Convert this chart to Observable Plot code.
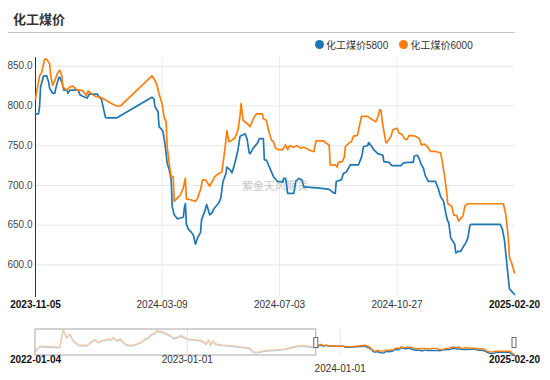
<!DOCTYPE html>
<html><head><meta charset="utf-8">
<script src="https://cdn.jsdelivr.net/npm/d3@7"></script>
<script src="https://cdn.jsdelivr.net/npm/@observablehq/plot@0.6"></script>
<style>
body{margin:0;background:#fff;}
#wrap{position:relative;width:550px;height:380px;overflow:hidden;font-family:"Liberation Sans",Arial,"Noto Sans CJK SC",sans-serif;}
#title{position:absolute;left:13px;top:10px;font-size:13px;font-weight:bold;color:#333;font-family:"Noto Sans CJK SC",sans-serif;line-height:18px;}
#sep{position:absolute;left:8px;top:32px;width:507px;height:1px;background:#c4c4c4;}
.leg{position:absolute;top:38.5px;height:12px;display:flex;align-items:center;font-size:10px;color:#333;white-space:nowrap;}
.leg i{display:inline-block;width:9px;height:9px;border-radius:50%;margin-right:2.5px;}
#main{position:absolute;left:0;top:40px;}
#slider{position:absolute;left:0;top:320px;}
</style></head>
<body><div id="wrap">
<div id="title"></div><div id="sep"></div>
<div id="legend"></div>
<div id="main"></div><div id="slider"></div>
</div>
<script>
const titleText = "化工煤价";
const seriesNames = ["化工煤价5800", "化工煤价6000"];
const seriesColors = ["#1f77b4", "#ff7f0e"];
const fadedColors = ["#b3d0e8", "#f8cba6"];
const watermark = "紫金天风期货";
const yTicks = [600, 650, 700, 750, 800, 850];
const yDomain = [559, 861];
const xTickLabels = ["2023-11-05", "2024-03-09", "2024-07-03", "2024-10-27", "2025-02-20"];
const sliderLabels = ["2022-01-04", "2023-01-01", "2024-01-01", "2025-02-20"];
const sliderYDomain = [563, 1264];

const dates5800 = ["2023-11-05","2023-11-08","2023-11-09","2023-11-10","2023-11-13","2023-11-16","2023-11-18","2023-11-19","2023-11-22","2023-11-24","2023-11-25","2023-11-28","2023-11-29","2023-12-01","2023-12-03","2023-12-06","2023-12-07","2023-12-09","2023-12-17","2023-12-19","2023-12-22","2023-12-26","2023-12-28","2024-01-05","2024-01-07","2024-01-09","2024-01-13","2024-01-14","2024-01-24","2024-02-28","2024-03-01","2024-03-02","2024-03-04","2024-03-05","2024-03-06","2024-03-09","2024-03-10","2024-03-12","2024-03-14","2024-03-16","2024-03-18","2024-03-19","2024-03-21","2024-03-24","2024-03-27","2024-03-30","2024-03-31","2024-04-01","2024-04-02","2024-04-04","2024-04-07","2024-04-09","2024-04-11","2024-04-13","2024-04-16","2024-04-17","2024-04-20","2024-04-22","2024-04-25","2024-04-27","2024-04-30","2024-05-04","2024-05-06","2024-05-08","2024-05-11","2024-05-12","2024-05-15","2024-05-17","2024-05-19","2024-05-21","2024-05-23","2024-05-25","2024-05-30","2024-06-01","2024-06-03","2024-06-04","2024-06-07","2024-06-11","2024-06-13","2024-06-17","2024-06-18","2024-06-20","2024-06-22","2024-06-25","2024-06-27","2024-07-01","2024-07-06","2024-07-07","2024-07-09","2024-07-11","2024-07-17","2024-07-19","2024-07-22","2024-07-25","2024-07-27","2024-07-30","2024-08-09","2024-08-16","2024-08-21","2024-08-25","2024-08-27","2024-08-28","2024-09-02","2024-09-04","2024-09-07","2024-09-11","2024-09-19","2024-09-22","2024-09-24","2024-09-28","2024-09-29","2024-10-02","2024-10-04","2024-10-08","2024-10-13","2024-10-14","2024-10-19","2024-10-22","2024-10-31","2024-11-02","2024-11-06","2024-11-12","2024-11-13","2024-11-16","2024-11-18","2024-11-20","2024-11-22","2024-11-24","2024-11-27","2024-12-04","2024-12-07","2024-12-09","2024-12-11","2024-12-12","2024-12-14","2024-12-16","2024-12-17","2024-12-19","2024-12-21","2024-12-23","2024-12-24","2024-12-26","2024-12-29","2024-12-31","2025-01-03","2025-01-05","2025-01-07","2025-01-08","2025-02-06","2025-02-08","2025-02-10","2025-02-12","2025-02-14","2025-02-15","2025-02-17","2025-02-20"];
const values5800 = [790,790,799,824,838,838,830,822,816,816,822,836,836,830,820,820,816,820,820,814,812,810,815,815,811,809,786,785,785,811,809,799,795,793,774,770,767,751,728,720,707,673,663,658,659,660,672,677,651,645,641,637,626,634,641,657,667,676,663,665,672,678,684,704,715,723,720,716,724,734,745,762,765,758,741,740,747,753,759,759,732,732,726,717,711,705,704,709,709,690,690,705,709,707,698,698,697,696,695,691,690,705,707,715,717,726,726,736,749,750,754,749,745,740,738,730,729,725,725,728,729,729,737,738,733,726,722,712,705,705,695,686,682,680,666,655,654,634,630,626,615,617,617,622,628,634,650,651,651,645,632,607,582,570,567,563];

const dates6000 = ["2023-11-05","2023-11-09","2023-11-11","2023-11-14","2023-11-16","2023-11-19","2023-11-20","2023-11-22","2023-11-24","2023-11-27","2023-11-29","2023-12-01","2023-12-02","2023-12-06","2023-12-09","2023-12-12","2023-12-16","2023-12-19","2023-12-22","2023-12-25","2023-12-27","2023-12-31","2024-01-03","2024-01-08","2024-01-11","2024-01-14","2024-01-19","2024-01-24","2024-01-28","2024-02-28","2024-03-02","2024-03-04","2024-03-06","2024-03-09","2024-03-11","2024-03-13","2024-03-14","2024-03-16","2024-03-18","2024-03-20","2024-03-21","2024-03-24","2024-03-27","2024-03-30","2024-04-01","2024-04-02","2024-04-06","2024-04-11","2024-04-13","2024-04-16","2024-04-18","2024-04-21","2024-04-25","2024-04-30","2024-05-04","2024-05-07","2024-05-10","2024-05-12","2024-05-14","2024-05-17","2024-05-20","2024-05-23","2024-05-25","2024-05-26","2024-05-28","2024-06-01","2024-06-04","2024-06-07","2024-06-10","2024-06-16","2024-06-17","2024-06-20","2024-06-22","2024-06-25","2024-06-27","2024-06-29","2024-07-02","2024-07-06","2024-07-09","2024-07-11","2024-07-13","2024-07-17","2024-07-20","2024-07-24","2024-07-27","2024-08-01","2024-08-04","2024-08-06","2024-08-08","2024-08-16","2024-08-17","2024-08-21","2024-08-22","2024-08-27","2024-08-29","2024-08-30","2024-09-03","2024-09-05","2024-09-06","2024-09-10","2024-09-12","2024-09-14","2024-09-18","2024-09-19","2024-09-22","2024-09-28","2024-10-01","2024-10-06","2024-10-08","2024-10-10","2024-10-11","2024-10-13","2024-10-16","2024-10-17","2024-10-21","2024-10-23","2024-10-27","2024-10-29","2024-11-01","2024-11-04","2024-11-06","2024-11-08","2024-11-14","2024-11-18","2024-11-20","2024-11-23","2024-11-26","2024-11-29","2024-12-03","2024-12-09","2024-12-11","2024-12-13","2024-12-15","2024-12-16","2024-12-17","2024-12-20","2024-12-22","2024-12-25","2024-12-27","2024-12-29","2024-12-31","2025-01-02","2025-01-05","2025-02-09","2025-02-11","2025-02-12","2025-02-14","2025-02-15","2025-02-17","2025-02-20"];
const values6000 = [809,838,842,859,859,853,838,826,832,842,845,838,824,820,824,825,820,820,819,813,819,815,812,811,809,807,803,800,800,838,832,826,815,803,786,780,749,728,711,711,680,684,688,697,709,683,682,680,684,695,707,707,699,711,715,717,745,769,755,757,760,770,788,803,782,778,774,784,790,790,784,782,770,757,755,747,745,745,751,745,750,748,750,747,748,745,743,743,756,756,754,751,726,726,723,729,730,736,749,754,755,762,763,770,787,787,784,780,786,795,795,776,754,754,762,770,772,766,764,758,758,763,762,759,751,752,749,743,743,741,728,711,692,678,676,674,663,662,655,659,661,674,677,677,666,657,632,609,603,590];

// overview (slider) history, 2022-01 to 2023-10
const histDates = ["2022-01-04","2022-01-15","2022-03-03","2022-03-11","2022-03-19","2022-03-27","2022-04-04","2022-04-16","2022-05-06","2022-05-18","2022-05-26","2022-06-03","2022-06-11","2022-06-27","2022-07-05","2022-07-09","2022-07-18","2022-07-25","2022-08-06","2022-08-18","2022-09-03","2022-09-15","2022-09-23","2022-10-01","2022-10-09","2022-10-17","2022-10-19","2022-10-29","2022-11-06","2022-11-14","2022-11-22","2022-11-30","2022-12-08","2022-12-16","2022-12-20","2023-01-04","2023-02-05","2023-02-15","2023-02-21","2023-02-25","2023-03-03","2023-03-09","2023-03-25","2023-04-26","2023-05-31","2023-06-08","2023-06-20","2023-07-06","2023-07-30","2023-08-23","2023-09-16","2023-10-02","2023-10-18","2023-10-30"];
const hist6000 = [698,814,787,1264,1056,1148,967,851,833,940,994,921,967,1013,994,1056,967,1013,878,833,878,940,1013,1056,1148,1175,1237,1210,1191,1148,1102,1029,1056,1102,1083,1013,967,878,994,851,967,878,851,814,760,652,652,698,717,744,814,833,814,787];
const hist5800 = [680,795,770,1240,1035,1125,948,832,815,920,975,902,946,992,974,1034,947,990,858,812,856,918,990,1032,1122,1150,1210,1185,1168,1125,1080,1008,1034,1078,1060,992,945,858,970,830,944,856,830,793,740,632,635,678,697,722,792,810,792,770];

const parse = d3.utcParse("%Y-%m-%d");
const mk = (ds, vs) => ds.map((d, i) => ({date: parse(d), value: vs[i]}));
const s5800 = mk(dates5800, values5800);
const s6000 = mk(dates6000, values6000);
const h5800 = mk(histDates, hist5800).concat([s5800[0]]);
const h6000 = mk(histDates, hist6000).concat([s6000[0]]);

const xStart = parse(xTickLabels[0]), xEnd = parse(xTickLabels[xTickLabels.length - 1]);
const xMid = xTickLabels.slice(1, -1).map(parse);
const sStart = parse(sliderLabels[0]), sEnd = parse(sliderLabels[sliderLabels.length - 1]);
const sMid = sliderLabels.slice(1, -1).map(parse);

document.getElementById("title").textContent = titleText;
const leg = document.getElementById("legend");
[[314.5, 0], [399, 1]].forEach(([left, i]) => {
  const d = document.createElement("div");
  d.className = "leg"; d.style.left = left + "px";
  d.innerHTML = `<i style="background:${seriesColors[i]}"></i><span>${seriesNames[i]}</span>`;
  leg.appendChild(d);
});

const font = "'Liberation Sans', Arial, 'Noto Sans CJK SC', sans-serif";

const main = Plot.plot({
  width: 550, height: 280,
  marginLeft: 35, marginRight: 36, marginTop: 17, marginBottom: 23,
  x: {type: "utc", domain: [xStart, xEnd], axis: null},
  y: {domain: yDomain, axis: null},
  style: {fontFamily: font, fontSize: "10px", background: "transparent", overflow: "visible"},
  marks: [
    Plot.ruleY(yTicks, {stroke: "#e6e6e6", strokeWidth: 1}),
    Plot.ruleX(xMid, {stroke: "#ececec", strokeWidth: 1}),
    Plot.text([watermark], {frameAnchor: "middle", dy: 9, fill: "#c8c8c8", fontSize: 11, fontFamily: "'Noto Sans CJK SC', sans-serif"}),
    Plot.text(yTicks, {y: d => d, frameAnchor: "left", textAnchor: "end", dx: -3, text: d => d.toFixed(1), fill: "#444", fontSize: 10}),
    Plot.ruleX([xStart], {stroke: "#333", strokeWidth: 1}),
    Plot.line(s5800, {x: "date", y: "value", stroke: seriesColors[0], strokeWidth: 1.7}),
    Plot.line(s6000, {x: "date", y: "value", stroke: seriesColors[1], strokeWidth: 1.7}),
    Plot.text(xMid, {x: d => d, frameAnchor: "bottom", dy: 10, text: d => d3.utcFormat("%Y-%m-%d")(d), fill: "#333", fontSize: 10}),
    Plot.text([xStart, xEnd], {x: d => d, frameAnchor: "bottom", dy: 10, text: d => d3.utcFormat("%Y-%m-%d")(d), fill: "#111", fontWeight: "bold", fontSize: 10})
  ]
});
document.getElementById("main").appendChild(main);

const slider = Plot.plot({
  width: 550, height: 60,
  marginLeft: 35, marginRight: 36, marginTop: 9, marginBottom: 25,
  x: {type: "utc", domain: [sStart, sEnd], axis: null},
  y: {domain: sliderYDomain, axis: null},
  style: {fontFamily: font, fontSize: "10px", background: "transparent", overflow: "visible"},
  marks: [
    Plot.ruleX(sMid, {stroke: "#e4e4e4", strokeWidth: 1}),
    Plot.line(h5800, {x: "date", y: "value", stroke: fadedColors[0], strokeWidth: 1.3}),
    Plot.line(h6000, {x: "date", y: "value", stroke: fadedColors[1], strokeWidth: 1.3}),
    Plot.line(s5800, {x: "date", y: "value", stroke: seriesColors[0], strokeWidth: 1.4}),
    Plot.line(s6000, {x: "date", y: "value", stroke: seriesColors[1], strokeWidth: 1.4}),
    Plot.rect([0], {x1: () => sStart, x2: () => xStart, fill: "none", stroke: "#a8a8a8", strokeWidth: 1}),
    Plot.rect([xStart, sEnd], {x1: d => d, x2: d => d, insetLeft: -2, insetRight: -2, insetTop: 8.5, insetBottom: 7.5, fill: "#fff", stroke: "#666", strokeWidth: 1}),
    Plot.text([sMid[0]], {x: d => d, frameAnchor: "bottom", dy: 7, text: d => d3.utcFormat("%Y-%m-%d")(d), fill: "#333", fontSize: 10}),
    Plot.text([sMid[1]], {x: d => d, frameAnchor: "bottom", dy: 16, text: d => d3.utcFormat("%Y-%m-%d")(d), fill: "#333", fontSize: 10}),
    Plot.text([sStart, sEnd], {x: d => d, frameAnchor: "bottom", dy: 7, text: d => d3.utcFormat("%Y-%m-%d")(d), fill: "#111", fontWeight: "bold", fontSize: 10})
  ]
});
document.getElementById("slider").appendChild(slider);
</script>
</body></html>
